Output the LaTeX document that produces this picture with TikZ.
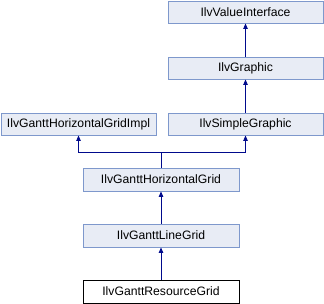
\documentclass[tikz,border=0pt]{standalone}
\usepackage{fontspec}
\setmainfont{Liberation Sans}
\usetikzlibrary{arrows.meta}
\definecolor{boxfill}{HTML}{E8ECF5}
\definecolor{boxline}{HTML}{7E98CC}
\definecolor{edgeblue}{HTML}{000A8C}
\tikzset{
  cls/.style={draw=boxline, fill=boxfill, line width=0.9pt, minimum width=155pt,
    minimum height=22pt, inner sep=0pt, font=\fontsize{12.2}{14}\selectfont},
  focus/.style={cls, draw=black, fill=white},
  edge/.style={draw=edgeblue, line width=0.9pt,
    -{Triangle[width=4.5pt,length=5.5pt]}},
}
\begin{document}
\begin{tikzpicture}[x=1pt,y=1pt]
\useasboundingbox (0,0) rectangle (324,304);
\node[cls] (vi) at (245.5,292) {IlvValueInterface};
\node[cls] (gr) at (245.5,236) {IlvGraphic};
\node[cls] (impl) at (78.5,180) {IlvGanttHorizontalGridImpl};
\node[cls] (sg) at (245.5,180) {IlvSimpleGraphic};
\node[cls, minimum width=156pt, minimum height=23pt] (hg) at (161,124.5) {IlvGanttHorizontalGrid};
\node[cls, minimum width=156pt, minimum height=23pt] (lg) at (161,68.5) {IlvGanttLineGrid};
\node[focus, minimum width=156pt, minimum height=23pt] (rg) at (161,12.5) {IlvGanttResourceGrid};
\coordinate (jn) at (161,152);
\draw[edge] (gr.north) -- (vi.south);
\draw[edge] (sg.north) -- (gr.south);
\draw[edge] (lg.north) -- (hg.south);
\draw[edge] (rg.north) -- (lg.south);
\draw[edge] (hg.north) -- (jn) -| (impl.south);
\draw[edge] (jn) -| (sg.south);
\end{tikzpicture}
\end{document}
